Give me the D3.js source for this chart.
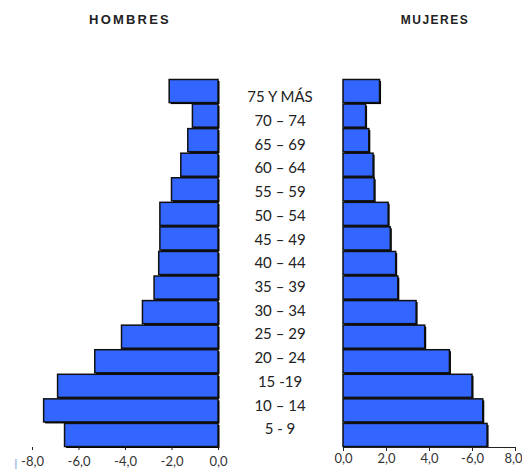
<!DOCTYPE html>
<html><head><meta charset="utf-8">
<script src="https://cdn.jsdelivr.net/npm/d3@7"></script>
<style>body{margin:0;background:#fff;} svg{display:block;}</style>
</head><body>
<svg id="c" width="522" height="473"></svg>
<script>
const ageGroups = ["75 Y MÁS","70 – 74","65 – 69","60 – 64","55 – 59","50 – 54","45 – 49","40 – 44","35 – 39","30 – 34","25 – 29","20 – 24","15 -19","10 – 14","5 - 9"];
const hombres = [2.1,1.1,1.3,1.6,2.0,2.5,2.5,2.55,2.75,3.25,4.15,5.3,6.9,7.5,6.6];
const mujeres = [1.7,1.05,1.2,1.4,1.45,2.1,2.2,2.45,2.55,3.4,3.8,4.95,6.0,6.5,6.7];
const leftTicks = [-8,-6,-4,-2,0];
const leftTickLabels = ["-8,0","-6,0","-4,0","-2,0","0,0"];
const rightTicks = [0,2,4,6,8];
const rightTickLabels = ["0,0","2,0","4,0","-6,0","8,0"];

const svg = d3.select("#c");
const xL = d3.scaleLinear().domain([-8,0]).range([32,218]);
const xR = d3.scaleLinear().domain([0,8]).range([343,515]);
const y = d3.scaleBand().domain(ageGroups).range([79,447]).paddingInner(0.06).paddingOuter(0.02);
const yLab = d3.scaleBand().domain(ageGroups).range([85,441]);

const fill = "#3366ff";
function bars(g, data, x0fn, wfn){
  g.selectAll("rect.sh").data(data).join("rect").attr("class","sh")
    .attr("x",(d,i)=>x0fn(d,i)+1.5).attr("y",(d,i)=>y(ageGroups[i])+1.5)
    .attr("width",(d,i)=>wfn(d,i)).attr("height",y.bandwidth()).attr("fill","#000");
  g.selectAll("rect.b").data(data).join("rect").attr("class","b")
    .attr("x",(d,i)=>x0fn(d,i)).attr("y",(d,i)=>y(ageGroups[i]))
    .attr("width",(d,i)=>wfn(d,i)).attr("height",y.bandwidth())
    .attr("fill",fill).attr("stroke","#111").attr("stroke-width",1.5);
}
bars(svg.append("g"), hombres, d=>xL(-d), d=>xL(0)-xL(-d));
bars(svg.append("g"), mujeres, d=>xR(0), d=>xR(d)-xR(0));

// age labels
svg.append("g").selectAll("text").data(ageGroups).join("text")
  .attr("x",280).attr("y",d=>yLab(d)+yLab.bandwidth()/2)
  .attr("dy","0.35em").attr("text-anchor","middle")
  .attr("font-family","Lato, 'Open Sans', sans-serif").attr("font-size",15)
  .attr("fill","#222").text(d=>d);

// left axis
const lax = svg.append("g").attr("transform","translate(0,447)");
lax.call(d3.axisBottom(xL).tickValues(leftTicks).tickSize(3).tickFormat((d,i)=>leftTickLabels[i]));
lax.select(".domain").remove();
lax.selectAll("line").attr("stroke","#222");
lax.selectAll("text").attr("font-family","Lato, sans-serif").attr("font-size",13).attr("fill","#333").attr("dy","1em");
svg.append("text").attr("x",14).attr("y",469).attr("font-family","Lato, sans-serif").attr("font-size",13).attr("fill","#9fb8e0").text("I");

// right axis
const rax = svg.append("g").attr("transform","translate(0,447)");
rax.call(d3.axisBottom(xR).tickValues(rightTicks).tickSize(4).tickSizeOuter(0).tickFormat((d,i)=>rightTickLabels[i]));
rax.select(".domain").attr("stroke","#222");
rax.selectAll("line").attr("stroke","#222");
rax.selectAll("text").attr("font-family","Lato, sans-serif").attr("font-size",13).attr("fill","#333").attr("dy","0.7em");
rax.selectAll(".tick").filter(d=>d===8).select("text").attr("text-anchor","end").attr("x",7);

// titles
svg.append("text").attr("x",130).attr("y",24).attr("text-anchor","middle")
  .attr("font-family","'Liberation Sans', Arial, sans-serif").attr("font-weight","bold").attr("font-size",13)
  .attr("letter-spacing",2.2).attr("fill","#222").text("HOMBRES");
svg.append("text").attr("x",435).attr("y",24).attr("text-anchor","middle")
  .attr("font-family","'Liberation Sans', Arial, sans-serif").attr("font-weight","bold").attr("font-size",12)
  .attr("letter-spacing",1.5).attr("fill","#222").text("MUJERES");
</script>
</body></html>
